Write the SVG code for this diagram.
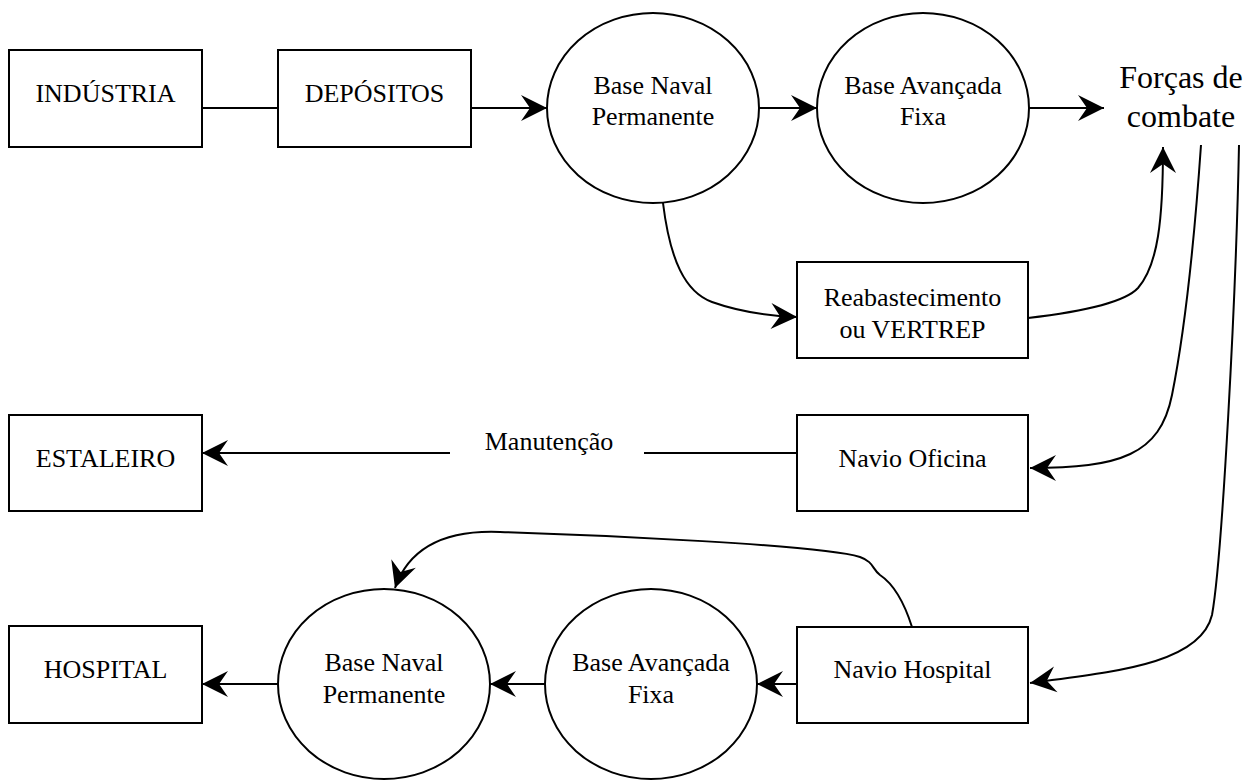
<svg xmlns="http://www.w3.org/2000/svg" width="1258" height="780" viewBox="0 0 1258 780">
  <style>
    .box { fill: #ffffff; stroke: #000000; stroke-width: 2; }
    .circ { fill: #ffffff; stroke: #000000; stroke-width: 2; }
    text { font-family: 'Liberation Serif', 'DejaVu Serif', serif; fill: #000000; text-anchor: middle; }
    .lbl { font-size: 26px; }
    .big { font-size: 32px; }
    .edge { fill: none; stroke: #000000; stroke-width: 2; }
    .arrow { marker-end: url(#head); }
  </style>
  <defs>
    <marker id="head" viewBox="-28 -14 30 28" refX="0" refY="0" markerWidth="30" markerHeight="28" markerUnits="userSpaceOnUse" orient="auto">
      <path d="M0,0 L-26,-13 L-17,0 L-26,13 Z" fill="#000000"/>
    </marker>
  </defs>
  <rect width="1258" height="780" fill="#ffffff"/>

  <!-- connectors -->
  <g id="connectors">
    <line class="edge" x1="202" y1="108" x2="278" y2="108"/>
    <line class="edge arrow" x1="471" y1="108" x2="547" y2="108"/>
    <line class="edge arrow" x1="759" y1="108" x2="817" y2="108"/>
    <line class="edge arrow" x1="1029" y1="108" x2="1104" y2="108"/>
    <path class="edge arrow" d="M663,203 C670,260 685,292 712,302 C740,312 770,316 797,317"/>
    <path class="edge arrow" d="M1028,318 C1080,312 1125,302 1138,288 C1158,265 1163,220 1163,147"/>
    <path class="edge arrow" d="M1201,145 C1193,260 1183,340 1172,395 C1160,455 1120,468 1030,468"/>
    <path class="edge arrow" d="M1239,145 C1236,300 1222,560 1212,615 C1200,665 1110,672 1030,683"/>
    <line class="edge" x1="797" y1="453" x2="644" y2="453"/>
    <line class="edge arrow" x1="450" y1="453" x2="202" y2="453"/>
    <line class="edge arrow" x1="797" y1="684" x2="757" y2="684"/>
    <line class="edge arrow" x1="545" y1="684" x2="490" y2="684"/>
    <line class="edge arrow" x1="278" y1="684" x2="202" y2="684"/>
    <path class="edge arrow" d="M912,627 C905,605 895,585 880,575 C872,569 874,562 860,557 C820,545 600,535 500,532 C450,530 410,545 395,588"/>
  </g>

  <!-- top row -->
  <g id="industria">
    <rect class="box" x="9" y="50" width="193" height="97"/>
    <text class="lbl" x="105.5" y="102" font-family="Liberation Serif, serif">INDÚSTRIA</text>
  </g>
  <g id="depositos">
    <rect class="box" x="278" y="50" width="193" height="97"/>
    <text class="lbl" x="374.5" y="102">DEPÓSITOS</text>
  </g>
  <g id="base-naval-top">
    <ellipse class="circ" cx="653" cy="108" rx="106" ry="95"/>
    <text class="lbl" x="653" y="94">Base Naval</text>
    <text class="lbl" x="653" y="125">Permanente</text>
  </g>
  <g id="base-avancada-top">
    <ellipse class="circ" cx="923" cy="108" rx="106" ry="95"/>
    <text class="lbl" x="923" y="94">Base Avançada</text>
    <text class="lbl" x="923" y="125">Fixa</text>
  </g>
  <g id="forcas">
    <text class="big" x="1181" y="88">Forças de</text>
    <text class="big" x="1181" y="127">combate</text>
  </g>

  <!-- middle -->
  <g id="reabastecimento">
    <rect class="box" x="797" y="262" width="231" height="96"/>
    <text class="lbl" x="912.5" y="306">Reabastecimento</text>
    <text class="lbl" x="912.5" y="338">ou VERTREP</text>
  </g>
  <g id="estaleiro">
    <rect class="box" x="9" y="415" width="193" height="96"/>
    <text class="lbl" x="105.5" y="467">ESTALEIRO</text>
  </g>
  <g id="manutencao">
    <text class="lbl" x="549" y="450">Manutenção</text>
  </g>
  <g id="navio-oficina">
    <rect class="box" x="797" y="415" width="231" height="96"/>
    <text class="lbl" x="912.5" y="467">Navio Oficina</text>
  </g>

  <!-- bottom row -->
  <g id="hospital">
    <rect class="box" x="9" y="626" width="193" height="97"/>
    <text class="lbl" x="105.5" y="678">HOSPITAL</text>
  </g>
  <g id="base-naval-bottom">
    <ellipse class="circ" cx="384" cy="684" rx="106" ry="95"/>
    <text class="lbl" x="384" y="671">Base Naval</text>
    <text class="lbl" x="384" y="703">Permanente</text>
  </g>
  <g id="base-avancada-bottom">
    <ellipse class="circ" cx="651" cy="684" rx="106" ry="95"/>
    <text class="lbl" x="651" y="671">Base Avançada</text>
    <text class="lbl" x="651" y="703">Fixa</text>
  </g>
  <g id="navio-hospital">
    <rect class="box" x="797" y="627" width="231" height="96"/>
    <text class="lbl" x="912.5" y="678">Navio Hospital</text>
  </g>
</svg>
